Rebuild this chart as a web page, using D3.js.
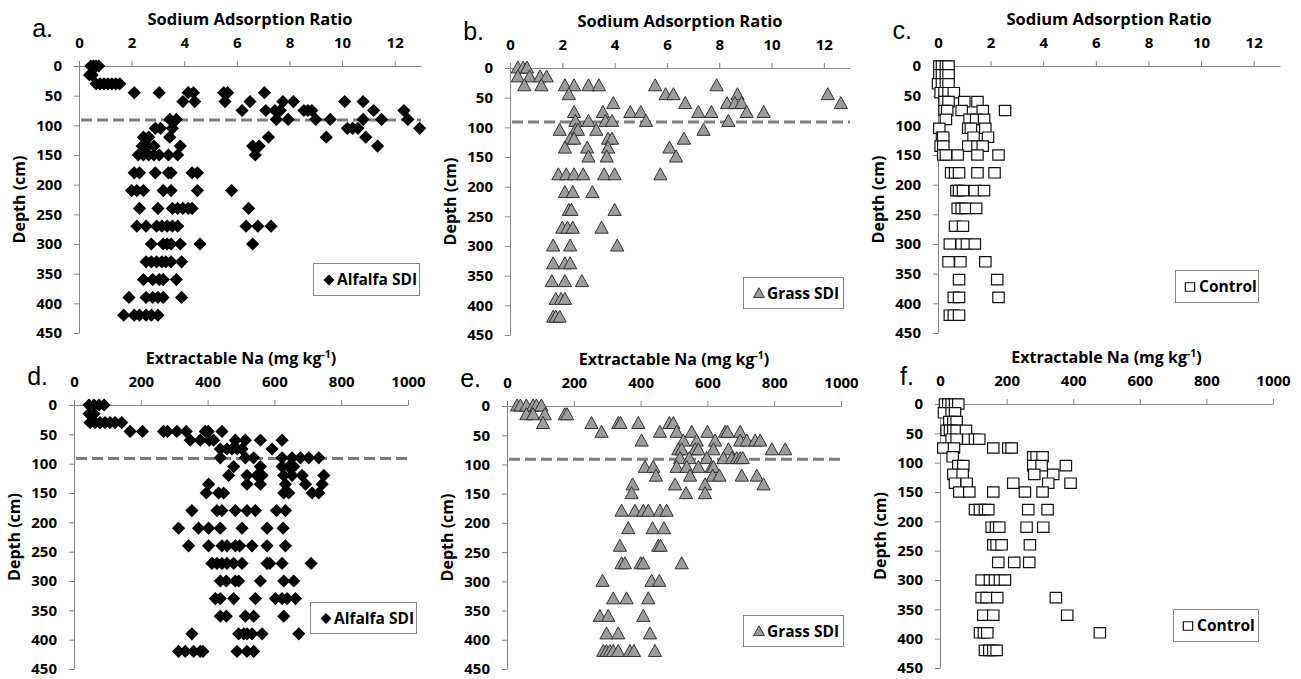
<!DOCTYPE html>
<html>
<head>
<meta charset="utf-8">
<script src="https://cdn.jsdelivr.net/npm/d3@7"></script>
<style>
  body { margin: 0; background: #fff; }
  svg text { font-family: "Open Sans", sans-serif; font-weight: 700; fill: #000; }
  svg text.tag { font-family: "Liberation Sans", Arial, sans-serif; font-weight: 400; }
</style>
</head>
<body>
<svg id="chart" width="1301" height="679"></svg>
<script>
// Sampling depths (cm); every series below has one list of readings per depth.
const depths = [0, 15, 30, 45, 60, 75, 90, 105, 120, 135, 150, 180, 210, 240, 270, 300, 330, 360, 390, 420];

// Sodium adsorption ratio, alfalfa SDI
const sarAlfalfa = [
  [0.45, 0.55, 0.65, 0.75],
  [0.4, 0.5],
  [0.65, 0.8, 0.95, 1.1, 1.25, 1.4, 1.55],
  [2.1, 3.05, 4.15, 4.35, 5.5, 5.65, 7.05],
  [3.95, 4.4, 5.55, 6.5, 7.75, 8.15, 10.1, 10.8],
  [6.2, 7.1, 7.45, 7.65, 8.55, 8.7, 8.85, 11.2, 12.35],
  [3.45, 3.7, 7.5, 7.95, 9.0, 9.55, 10.8, 11.5, 12.5],
  [2.9, 3.1, 3.55, 10.2, 10.4, 10.6, 12.95],
  [2.45, 2.65, 3.45, 7.2, 9.4, 10.9],
  [2.4, 2.6, 2.85, 3.85, 6.6, 6.85, 11.35],
  [2.25, 2.45, 2.65, 2.85, 3.05, 3.4, 3.75, 6.7],
  [2.1, 2.3, 2.9, 3.4, 3.5, 4.3, 4.5],
  [2.0, 2.2, 2.45, 3.2, 3.5, 4.5, 5.8],
  [2.3, 3.0, 3.55, 3.75, 3.95, 4.15, 4.3, 6.45],
  [2.2, 2.55, 2.95, 3.15, 3.35, 3.55, 3.75, 6.35, 6.8, 7.3],
  [2.75, 3.2, 3.35, 3.5, 3.85, 4.6, 6.6],
  [2.55, 2.75, 2.95, 3.15, 3.3, 3.5, 3.9],
  [2.45, 2.8, 3.05, 3.2, 3.7],
  [1.9, 2.55, 2.8, 3.0, 3.2, 3.9],
  [1.7, 2.1, 2.3, 2.55, 2.75, 3.0]
];

// Sodium adsorption ratio, grass SDI
const sarGrass = [
  [0.3, 0.5, 0.65],
  [0.3, 0.75, 1.15, 1.4],
  [0.55, 1.2, 2.1, 2.45, 3.0, 3.4, 5.55, 7.9],
  [2.25, 5.95, 6.25, 8.7, 12.15],
  [3.95, 6.7, 8.3, 8.6, 8.85, 12.65],
  [2.45, 3.55, 4.6, 5.0, 7.2, 7.7, 9.05, 9.7],
  [2.5, 3.0, 3.65, 3.9, 5.2, 8.35],
  [1.9, 2.5, 2.6, 3.3, 7.4],
  [2.3, 2.45, 3.75, 3.9, 6.65],
  [2.1, 2.95, 3.75, 6.1],
  [3.0, 3.7, 6.35],
  [1.85, 2.15, 2.45, 2.8, 3.6, 4.0, 5.75],
  [2.1, 2.4, 3.15],
  [2.25, 2.35, 4.0],
  [2.0, 2.2, 2.4, 3.5],
  [1.65, 2.3, 4.1],
  [1.65, 2.1, 2.3],
  [1.6, 2.1, 2.75],
  [1.75, 1.95, 2.1],
  [1.65, 1.75, 1.9]
];

// Sodium adsorption ratio, control
const sarControl = [
  [0.05, 0.15, 0.3, 0.4],
  [0.05, 0.15, 0.3, 0.4],
  [0.0, 0.15, 0.3, 0.4],
  [0.1, 0.25, 0.4, 0.6],
  [0.25, 0.4, 1.0, 1.5],
  [0.25, 0.35, 0.9, 1.7, 2.55],
  [0.3, 1.2, 1.45, 1.75],
  [0.05, 1.15, 1.25, 1.8],
  [0.15, 0.2, 1.35, 1.9],
  [0.1, 0.2, 1.15, 1.5, 1.7],
  [0.2, 0.3, 0.75, 1.5, 2.3],
  [0.5, 0.65, 0.8, 1.5, 2.15],
  [0.7, 0.8, 0.95, 1.4, 1.75],
  [0.75, 0.9, 1.05, 1.45],
  [0.65, 0.95],
  [0.45, 0.9, 1.1, 1.4],
  [0.4, 0.85, 1.8],
  [0.8, 2.25],
  [0.6, 0.8, 2.3],
  [0.45, 0.6, 0.8]
];

// Extractable Na (mg/kg), alfalfa SDI
const naAlfalfa = [
  [45, 60, 75, 90],
  [45, 60],
  [48, 63, 78, 93, 108, 123, 143],
  [168, 205, 268, 280, 308, 336, 393, 402, 443],
  [348, 378, 405, 418, 483, 513, 558, 623],
  [438, 458, 473, 488, 503, 593],
  [438, 513, 538, 623, 653, 678, 703, 733],
  [478, 558, 623, 643, 658],
  [463, 518, 548, 563, 628, 653, 683, 748],
  [403, 518, 558, 633, 693, 743],
  [396, 433, 448, 628, 643, 713, 733],
  [353, 428, 443, 483, 518, 543, 606, 633],
  [313, 373, 403, 438, 503, 578, 626],
  [343, 403, 443, 458, 483, 496, 533, 578, 633],
  [413, 428, 443, 458, 478, 503, 578, 586, 623, 710],
  [438, 456, 483, 493, 558, 628, 658],
  [423, 438, 478, 543, 603, 623, 638, 663],
  [438, 456, 513, 538, 628],
  [353, 493, 508, 518, 533, 563, 673],
  [313, 333, 358, 378, 386, 488, 518, 538]
];

// Extractable Na (mg/kg), grass SDI
const naGrass = [
  [30, 40, 58, 78, 88, 103],
  [58, 78, 113, 173, 180],
  [108, 253, 333, 340, 393, 486, 498],
  [283, 458, 508, 553, 600, 653, 660, 698],
  [403, 528, 568, 623, 698, 718, 743, 758],
  [513, 523, 563, 573, 618, 663, 793, 833],
  [518, 546, 598, 648, 673, 688, 698, 706],
  [413, 438, 508, 538, 573, 613, 618],
  [446, 548, 616, 636, 703, 748],
  [376, 503, 593, 768],
  [373, 536, 593],
  [343, 383, 408, 423, 458, 478],
  [363, 436, 470],
  [338, 453, 460],
  [343, 353, 400, 408, 523],
  [286, 433, 456],
  [318, 358, 423],
  [278, 303, 408],
  [298, 333, 428],
  [288, 298, 308, 318, 333, 368, 380, 443]
];

// Extractable Na (mg/kg), control
const naControl = [
  [15, 25, 35, 45, 55],
  [12, 35, 45],
  [28, 40, 50],
  [20, 30, 40, 50, 78],
  [35, 50, 85, 105, 118],
  [10, 42, 160, 205, 215],
  [38, 280, 290, 308],
  [55, 70, 280, 305, 378],
  [40, 68, 283, 340],
  [45, 80, 220, 325, 392],
  [58, 88, 160, 255, 308],
  [105, 120, 135, 145, 265, 323],
  [155, 168, 178, 260, 310],
  [160, 170, 185, 270],
  [175, 223, 268],
  [125, 150, 165, 180, 195],
  [125, 140, 172, 348],
  [130, 160, 382],
  [120, 132, 142, 480],
  [135, 148, 160, 170]
];

// Axis ticks
const sarTicks = [0, 2, 4, 6, 8, 10, 12];
const naTicks = [0, 200, 400, 600, 800, 1000];
const depthTicks = [0, 50, 100, 150, 200, 250, 300, 350, 400, 450];

// Depth of the reference line drawn across the SDI panels (cm)
const rootZoneDepth = 91;

const svg = d3.select("#chart");

// Marker outlines, centred on the point
const markerPath = {
  diamond: (s) => `M0,${-6.6 * s}L${6.6 * s},0L0,${6.6 * s}L${-6.6 * s},0Z`,
  triangle: (s) => `M0,${-7 * s}L${6.6 * s},${5 * s}L${-6.6 * s},${5 * s}Z`,
  square: (s) => `M${-5.7 * s},${-5.2 * s}H${5.7 * s}V${5.2 * s}H${-5.7 * s}Z`
};
const markerStyle = {
  diamond: { fill: "#000", stroke: "none", sw: 0 },
  triangle: { fill: "#9c9c9c", stroke: "#333", sw: 1 },
  square: { fill: "#fff", stroke: "#111", sw: 1.2 }
};

const panels = [
  { tag: "a.", kind: "sar", values: sarAlfalfa, marker: "diamond", legend: "Alfalfa SDI",
    left: 79, top: 66, bottom: 333, right: 421, tagDy: -29, dashed: true, box: [313, 263, 106, 32] },
  { tag: "b.", kind: "sar", values: sarGrass, marker: "triangle", legend: "Grass SDI",
    left: 510, top: 68, bottom: 335, right: 850, tagDy: -28, dashed: true, box: [743, 277, 100, 31] },
  { tag: "c.", kind: "sar", values: sarControl, marker: "square", legend: "Control",
    left: 938, top: 66, bottom: 333, right: 1280, tagDy: -27, dashed: false, box: [1175, 270, 83, 32] },
  { tag: "d.", kind: "na", values: naAlfalfa, marker: "diamond", legend: "Alfalfa SDI",
    left: 74, top: 405, bottom: 669, right: 408, tagDy: -20, dashed: true, box: [310, 602, 106, 31] },
  { tag: "e.", kind: "na", values: naGrass, marker: "triangle", legend: "Grass SDI",
    left: 507, top: 406, bottom: 669, right: 841, tagDy: -19, dashed: true, box: [743, 615, 100, 31] },
  { tag: "f.", kind: "na", values: naControl, marker: "square", legend: "Control",
    left: 940, top: 404, bottom: 668, right: 1273, tagDy: -19, dashed: false, box: [1173, 609, 85, 32] }
];

const axisColor = "#868686";

panels.forEach(p => {
  const isSar = p.kind === "sar";
  const x = d3.scaleLinear().domain([0, isSar ? 13 : 1000]).range([p.left, p.right]);
  const y = d3.scaleLinear().domain([0, 450]).range([p.top, p.bottom]);
  const g = svg.append("g");

  // Top value axis
  const xAxis = d3.axisTop(x).tickValues(isSar ? sarTicks : naTicks)
    .tickSize(5).tickSizeOuter(0).tickPadding(13).tickFormat(d3.format("d"));
  const gx = g.append("g").attr("transform", `translate(0,${p.top})`).call(xAxis);
  gx.attr("font-size", null).attr("font-family", null).style("color", axisColor);
  gx.selectAll("text").style("fill", "#000").style("font-size", "15px");

  // Depth axis
  const yAxis = d3.axisLeft(y).tickValues(depthTicks)
    .tickSize(5).tickSizeOuter(0).tickPadding(12).tickFormat(d3.format("d"));
  const gy = g.append("g").attr("transform", `translate(${p.left},0)`).call(yAxis);
  gy.attr("font-size", null).attr("font-family", null).style("color", axisColor);
  gy.selectAll("text").style("fill", "#000").style("font-size", "15px").attr("dy", "0.33em");

  // Axis titles
  const cx = (p.left + p.right) / 2;
  if (isSar) {
    g.append("text").attr("x", cx).attr("y", p.top - 41).attr("text-anchor", "middle")
      .style("font-size", "16.5px").text("Sodium Adsorption Ratio");
  } else {
    const t = g.append("text").attr("x", cx).attr("y", p.top - 41).attr("text-anchor", "middle")
      .style("font-size", "16px");
    t.append("tspan").text("Extractable Na (mg kg");
    t.append("tspan").attr("dy", -6).style("font-size", "10.5px").text("-1");
    t.append("tspan").attr("dy", 6).text(")");
  }
  g.append("text")
    .attr("transform", `translate(${p.left - 54},${(p.top + p.bottom) / 2}) rotate(-90)`)
    .attr("text-anchor", "middle").style("font-size", "16px").text("Depth (cm)");

  // Panel letter
  g.append("text").attr("class", "tag").attr("x", p.left - 26).attr("y", p.top + p.tagDy)
    .attr("text-anchor", "end").style("font-size", "25px").text(p.tag);

  // Reference depth line
  if (p.dashed) {
    g.append("line")
      .attr("x1", x(0) + 2).attr("x2", x.range()[1]).attr("y1", y(rootZoneDepth)).attr("y2", y(rootZoneDepth))
      .attr("stroke", "#7f7f7f").attr("stroke-width", 3).attr("stroke-dasharray", "11,5");
  }

  // Points
  const pts = [];
  depths.forEach((d, i) => p.values[i].forEach(v => pts.push({ depth: d, value: v })));
  const st = markerStyle[p.marker];
  g.append("g").selectAll("path").data(pts).join("path")
    .attr("transform", d => `translate(${x(d.value)},${y(d.depth)})`)
    .attr("d", markerPath[p.marker](1))
    .attr("fill", st.fill).attr("stroke", st.stroke).attr("stroke-width", st.sw);

  // Legend
  const [bx, by, bw, bh] = p.box;
  const lg = g.append("g");
  lg.append("rect").attr("x", bx + 0.5).attr("y", by + 0.5).attr("width", bw).attr("height", bh)
    .attr("fill", "#fff").attr("stroke", axisColor).attr("stroke-width", 1);
  lg.append("path").attr("transform", `translate(${bx + (p.marker === "square" ? 15 : 16)},${by + bh / 2 + 1})`)
    .attr("d", markerPath[p.marker](0.82))
    .attr("fill", st.fill).attr("stroke", st.stroke).attr("stroke-width", st.sw);
  lg.append("text").attr("x", bx + 24).attr("y", by + 22)
    .style("font-size", "15.5px").text(p.legend);
});
</script>
</body>
</html>
